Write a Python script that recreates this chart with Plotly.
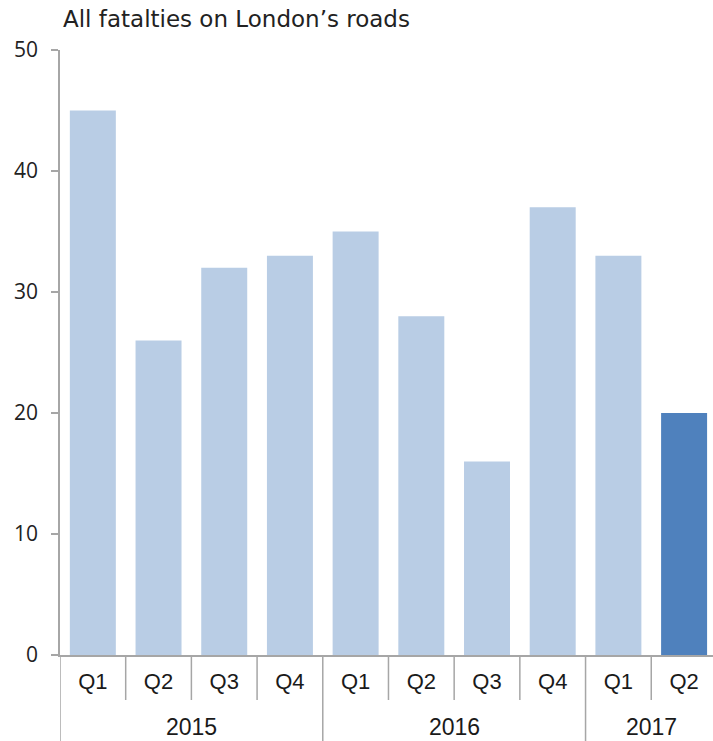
import plotly.graph_objects as go

# Quarterly fatalities on London's roads
years = ["2015", "2015", "2015", "2015", "2016", "2016", "2016", "2016", "2017", "2017"]
quarters = ["Q1", "Q2", "Q3", "Q4", "Q1", "Q2", "Q3", "Q4", "Q1", "Q2"]
fatalities = [45, 26, 32, 33, 35, 28, 16, 37, 33, 20]

LIGHT = "#B9CDE5"
DARK = "#4F81BD"
AXIS = "#A6A6A6"

keys = [f"{y} {q}" for y, q in zip(years, quarters)]
colors = [LIGHT] * (len(keys) - 1) + [DARK]

fig = go.Figure(
    go.Bar(
        x=keys,
        y=fatalities,
        marker=dict(color=colors, line=dict(width=0)),
        width=0.7,
        hoverinfo="x+y",
    )
)

W, H = 713, 741
ML, MR, MT, MB = 60, 0, 50, 86
plot_h = H - MT - MB

shapes = []
# quarter separators under the axis
for i in range(len(keys) - 1):
    if years[i] == years[i + 1]:
        shapes.append(dict(type="line", xref="x", yref="paper",
                           x0=i + 0.5, x1=i + 0.5, y0=0, y1=-45 / plot_h,
                           line=dict(color=AXIS, width=1.5)))
# year separators run to the bottom edge
bounds = [-0.5] + [i + 0.5 for i in range(len(keys) - 1) if years[i] != years[i + 1]]
for b in bounds:
    shapes.append(dict(type="line", xref="x", yref="paper",
                       x0=b, x1=b, y0=0, y1=-MB / plot_h,
                       line=dict(color=AXIS, width=1.5)))

annotations = []
# year labels centred on their groups
groups = {}
for i, y in enumerate(years):
    groups.setdefault(y, []).append(i)
for y, idx in groups.items():
    annotations.append(dict(x=(idx[0] + idx[-1]) / 2, y=-72 / plot_h, xref="x", yref="paper",
                            text=y, showarrow=False, xanchor="center", yanchor="middle",
                            font=dict(family="Liberation Sans, Arial", size=23, color="#1a1a1a")))
annotations.append(dict(x=0, y=1, xref="paper", yref="paper", xanchor="left", yanchor="bottom",
                        xshift=1, yshift=16, showarrow=False,
                        text="All fatalties on London\u2019s roads",
                        font=dict(family="DejaVu Sans", size=23, color="#222222")))

fig.update_layout(
    width=W, height=H,
    margin=dict(l=ML, r=MR, t=MT, b=MB),
    paper_bgcolor="white", plot_bgcolor="white",
    showlegend=False, bargap=0.3,
    shapes=shapes, annotations=annotations,
    xaxis=dict(
        type="category",
        tickmode="array", tickvals=keys, ticktext=quarters,
        ticks="", showgrid=False, zeroline=False,
        showline=True, linecolor=AXIS, linewidth=1.5,
        range=[-0.5, len(keys) - 0.56],
        tickfont=dict(family="Liberation Sans, Arial", size=22, color="#1a1a1a"),
        ticklabelstandoff=6,
    ),
    yaxis=dict(
        range=[0, 50], tickvals=[0, 10, 20, 30, 40, 50],
        ticks="outside", ticklen=7, tickcolor=AXIS, tickwidth=1.5,
        showgrid=False, zeroline=False,
        showline=True, linecolor=AXIS, linewidth=1.5,
        tickfont=dict(family="Open Sans", size=21, color="#222222"),
        ticklabelstandoff=9,
    ),
)

fig.write_html("out.html")
